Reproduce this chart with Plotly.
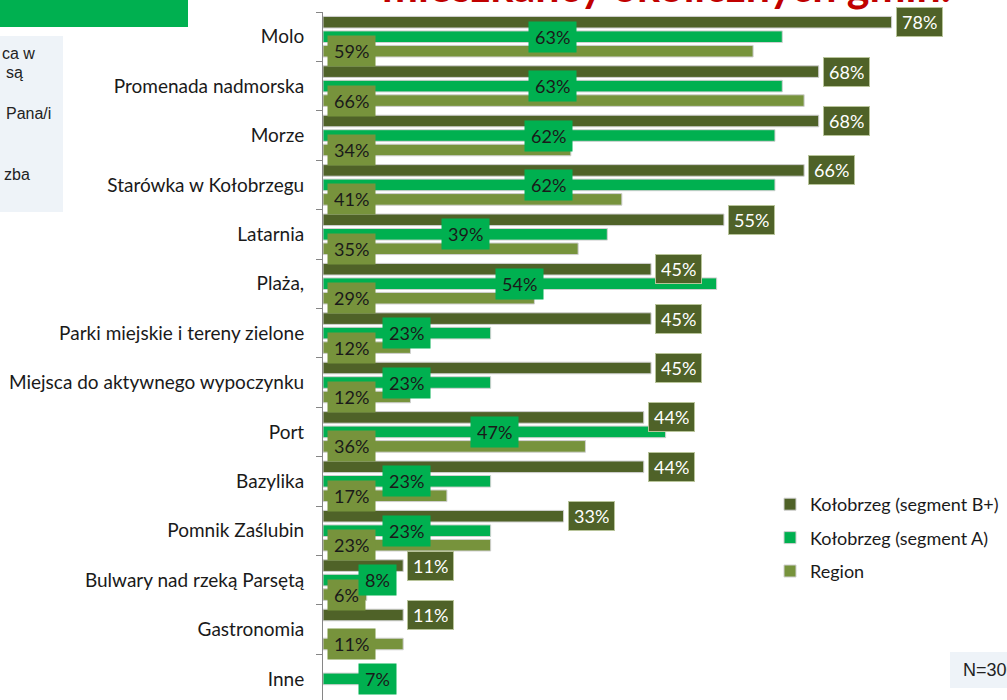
import plotly.graph_objects as go

categories = ["Molo", "Promenada nadmorska", "Morze", "Starówka w Kołobrzegu", "Latarnia",
              "Plaża,", "Parki miejskie i tereny zielone", "Miejsca do aktywnego wypoczynku",
              "Port", "Bazylika", "Pomnik Zaślubin", "Bulwary nad rzeką Parsętą",
              "Gastronomia", "Inne"]
segment_bplus = [78, 68, 68, 66, 55, 45, 45, 45, 44, 44, 33, 11, 11, None]
segment_a = [63, 63, 62, 62, 39, 54, 23, 23, 47, 23, 23, 8, None, 7]
region = [59, 66, 34, 41, 35, 29, 12, 12, 36, 17, 23, 6, 11, None]
series_names = ["Kołobrzeg (segment B+)", "Kołobrzeg (segment A)", "Region"]

C_DARK = "#4F6228"
C_GREEN = "#00B050"
C_OLIVE = "#77933C"
FONT = "Lato"

ypos = list(range(len(categories)))
BARGAP = 0.12
slot = (1 - BARGAP) / 3

fig = go.Figure()
for name, vals, col in zip(series_names, [segment_bplus, segment_a, region], [C_DARK, C_GREEN, C_OLIVE]):
    fig.add_trace(go.Bar(
        y=ypos, x=vals, name=name, orientation="h",
        marker=dict(color=col, line=dict(color="#D0D0D0", width=1)),
        legendgroup=name,
    ))

ann = []
for i, b in enumerate(segment_bplus):
    if b is not None:
        ann.append(dict(x=b, y=i - slot, xref="x", yref="y", text=f"{b}%", showarrow=False,
                        xanchor="left", xshift=4, height=18,
                        bgcolor=C_DARK, bordercolor="#B8C49A", borderwidth=1,
                        borderpad=5, font=dict(family=FONT, size=18, color="white")))
for i, r in enumerate(region):
    if r is not None:
        ann.append(dict(x=0, y=i + slot, xref="x", yref="y", text=f"{r}%", showarrow=False,
                        xanchor="left", xshift=4, bgcolor=C_OLIVE, borderpad=6, height=18,
                        font=dict(family=FONT, size=18, color="#1a1a1a")))
for i, a in enumerate(segment_a):
    if a is not None:
        ann.append(dict(x=max(a / 2, 7.5), y=i, xref="x", yref="y", text=f"{a}%", showarrow=False,
                        xanchor="center", bgcolor=C_GREEN, borderpad=6, height=18,
                        font=dict(family=FONT, size=18, color="#1a1a1a")))

# title (cut at top)
ann.append(dict(x=(666 - 323) / 684, y=1, xref="paper", yref="paper", yshift=-1, yanchor="bottom",
                text="<b>mieszkańcy okolicznych gmin.</b>", showarrow=False,
                font=dict(family=FONT, size=43, color="#C00000")))
# left panel fragments
for txt, px, py in [("ca w", 0, 53), ("są", 4, 72), ("Pana/i", 4, 113), ("zba", 2, 175)]:
    ann.append(dict(x=(px - 323) / 684, y=1 - (py - 12) / 688, xref="paper", yref="paper",
                    text=txt, showarrow=False, xanchor="left", yanchor="middle",
                    font=dict(family="Liberation Sans", size=16, color="#222222")))
ann.append(dict(x=(961 - 323) / 684, y=1 - (670 - 12) / 688, xref="paper", yref="paper",
                text="N=300", showarrow=False, xanchor="left", yanchor="middle",
                font=dict(family="Liberation Sans", size=18, color="#222222")))

shapes = [
    dict(type="rect", xref="paper", yref="paper", x0=-323 / 684, x1=(188 - 323) / 684,
         y0=1 - (27 - 12) / 688, y1=1 + 12 / 688, fillcolor=C_GREEN, line=dict(width=0), layer="below"),
    dict(type="rect", xref="paper", yref="paper", x0=-323 / 684, x1=(63 - 323) / 684,
         y0=1 - (212 - 12) / 688, y1=1 - (36 - 12) / 688, fillcolor="#EEF3F8", line=dict(width=0), layer="below"),
    dict(type="rect", xref="paper", yref="paper", x0=(950 - 323) / 684, x1=1.0,
         y0=1 - (688 - 12) / 688, y1=1 - (652 - 12) / 688, fillcolor="#EEF3F8", line=dict(width=0), layer="below"),
]

fig.update_layout(
    width=1007, height=700,
    margin=dict(l=323, r=0, t=12, b=0, autoexpand=False),
    paper_bgcolor="white", plot_bgcolor="white",
    barmode="group", bargap=BARGAP, bargroupgap=0.2,
    showlegend=True,
    legend=dict(x=(770 - 323) / 684, y=1 - (486 - 12) / 688, xanchor="left", yanchor="top",
                font=dict(family=FONT, size=18, color="#1a1a1a"), tracegroupgap=7,
                bgcolor="rgba(0,0,0,0)", traceorder="grouped"),
    annotations=ann, shapes=shapes,
    xaxis=dict(range=[0, 684 / 7.29], visible=False, showgrid=False, zeroline=False),
    yaxis=dict(range=[-0.5 + 688 / 49.4, -0.5], tickmode="array", tickvals=ypos, ticktext=categories,
               ticks="", showgrid=False, zeroline=False, showline=True, linecolor="#868686", linewidth=1,
               ticklabelstandoff=14, tickfont=dict(family=FONT, size=19, color="#1a1a1a"),
               minor=dict(tickmode="array", tickvals=[i - 0.5 for i in range(len(categories) + 1)],
                          ticks="outside", ticklen=6, tickcolor="#868686", tickwidth=1),
               automargin=False),
)

fig.write_html("out.html", config={"displayModeBar": False},
               post_script="document.body.style.margin='0px';")
